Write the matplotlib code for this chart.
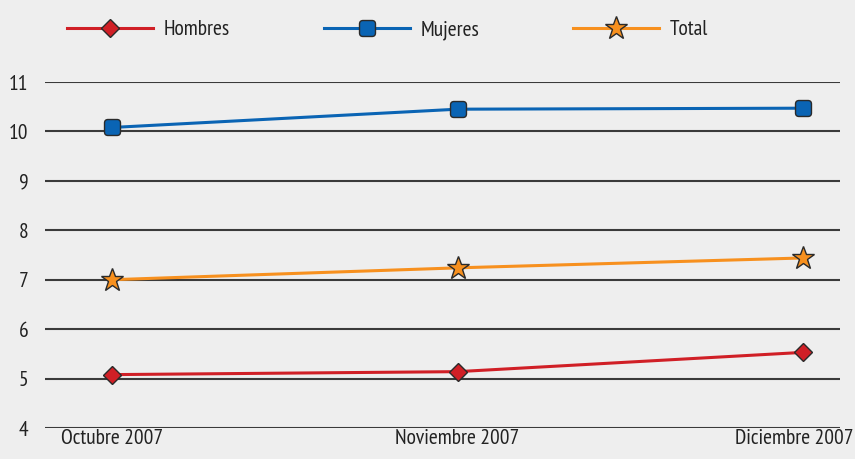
import matplotlib
matplotlib.use("Agg")
import matplotlib.pyplot as plt
import matplotlib.patches as mpatches
import matplotlib.transforms as mtrans
from matplotlib import font_manager

months = ["Octubre 2007", "Noviembre 2007", "Diciembre 2007"]
hombres = [5.08, 5.14, 5.53]
mujeres = [10.08, 10.45, 10.47]
total = [7.0, 7.24, 7.44]
yticks = [4, 5, 6, 7, 8, 9, 10, 11]

# pick a condensed face close to the original
names = {f.name for f in font_manager.fontManager.ttflist}
family = "DejaVu Sans"
for cand in ["PT Sans Narrow", "Fira Sans Condensed", "Roboto Condensed",
             "Open Sans Condensed", "Archivo Narrow", "Liberation Sans Narrow"]:
    if cand in names:
        family = cand
        break
plt.rcParams["font.family"] = [family, "DejaVu Sans"]

# rounded square marker
rsq = mpatches.FancyBboxPatch((-0.5, -0.5), 1, 1,
                              boxstyle="round,pad=0,rounding_size=0.22").get_path()

bg = "#eeeeee"
fs = 15.5
fig = plt.figure(figsize=(8.55, 4.59), dpi=100, facecolor=bg)
ax = fig.add_axes([45/855, 31/459, 795/855, 346/459], facecolor=bg)

x = list(range(len(months)))

# grid lines
for v in yticks:
    ax.axhline(v, color="#3a3a3a", lw=1.5, zorder=1)

ax.plot(x, hombres, color="#d01f26", lw=2.2, marker="D", markersize=9.5,
        markerfacecolor="#d01f26", markeredgecolor="#2a2a2a", markeredgewidth=1,
        label="Hombres", zorder=3)
ax.plot(x, mujeres, color="#0a64b4", lw=2.2, marker=rsq, markersize=11.5,
        markerfacecolor="#0a64b4", markeredgecolor="#2a2a2a", markeredgewidth=1,
        label="Mujeres", zorder=3)
ax.plot(x, total, color="#f7901e", lw=2.2, marker="*", markersize=17,
        markerfacecolor="#f7901e", markeredgecolor="#2a2a2a", markeredgewidth=1,
        label="Total", zorder=3)

ax.set_xlim(-0.194, 2.107)
ax.set_ylim(4, 11)
ax.set_yticks(yticks)
ax.set_xticks(x)
ax.set_xticklabels(months)
ax.tick_params(axis="both", length=0, labelsize=fs, colors="#222222")
ax.tick_params(axis="y", pad=12)
ax.tick_params(axis="x", pad=1)
for s in ax.spines.values():
    s.set_visible(False)

# last month label sits flush with the right edge, as in the original
last = ax.get_xticklabels()[-1]
last.set_ha("right")
last.set_transform(last.get_transform() + mtrans.ScaledTranslation(0.50, 0, fig.dpi_scale_trans))

fig.legend(loc="upper left", bbox_to_anchor=(67/855, 1 - 20/459), ncol=3,
           frameon=False, fontsize=fs, handlelength=4.0, columnspacing=4.35,
           handletextpad=0.5, borderpad=0, borderaxespad=0, labelcolor="#222222")

fig.savefig("out.png", dpi=100, facecolor=bg)
